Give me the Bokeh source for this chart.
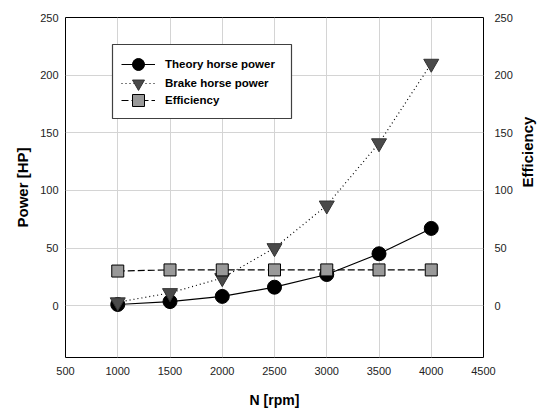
import math
from bokeh.plotting import figure
from bokeh.models import LinearAxis, FixedTicker, Range1d, Legend, LegendItem, BoxAnnotation
from bokeh.embed import file_html
from bokeh.resources import INLINE

rpm = [1000, 1500, 2000, 2500, 3000, 3500, 4000]
theory_hp = [1, 3.5, 8, 16, 27, 45, 67]
brake_hp = [3, 11, 24, 50, 87, 141, 210]
efficiency = [30, 31, 31, 31, 31, 31, 31]
x_ticks = [500, 1000, 1500, 2000, 2500, 3000, 3500, 4000, 4500]
y_ticks = [0, 50, 100, 150, 200, 250]

FONT = "Liberation Sans"

p = figure(width=547, height=410, output_backend="svg", toolbar_location=None,
           x_range=Range1d(500, 4500), y_range=Range1d(-45, 250),
           min_border_left=65, min_border_right=61, min_border_top=17, min_border_bottom=53)
p.background_fill_color = "white"
p.border_fill_color = "white"
p.outline_line_color = "black"
p.outline_line_width = 1

p.xgrid.grid_line_color = "#d4d4d4"
p.ygrid.grid_line_color = "#d4d4d4"
p.xgrid.ticker = FixedTicker(ticks=x_ticks)
p.ygrid.ticker = FixedTicker(ticks=y_ticks)

right = LinearAxis()
p.add_layout(right, "right")

for ax in [p.xaxis[0], p.yaxis[0], right]:
    ax.major_tick_line_color = None
    ax.minor_tick_line_color = None
    ax.major_tick_out = 0
    ax.major_tick_in = 0
    ax.minor_tick_out = 0
    ax.minor_tick_in = 0
    ax.axis_line_color = None
    ax.major_label_text_font = FONT
    ax.major_label_text_font_size = "11px"
    ax.major_label_text_color = "#222222"
    ax.axis_label_text_font = FONT
    ax.axis_label_text_font_style = "bold"
    ax.axis_label_text_color = "black"

p.xaxis[0].ticker = FixedTicker(ticks=x_ticks)
p.yaxis[0].ticker = FixedTicker(ticks=y_ticks)
right.ticker = FixedTicker(ticks=y_ticks)

p.xaxis[0].axis_label = "N [rpm]"
p.xaxis[0].axis_label_text_font_size = "14px"
p.xaxis[0].major_label_standoff = 9
p.xaxis[0].axis_label_standoff = 14
p.yaxis[0].axis_label = "Power [HP]"
p.yaxis[0].axis_label_text_font_size = "15px"
p.yaxis[0].major_label_standoff = 7
p.yaxis[0].axis_label_standoff = 6
right.axis_label = "Efficiency"
right.axis_label_text_font_size = "15px"
right.major_label_standoff = 11
right.axis_label_standoff = 12
if "axis_label_orientation" in right.properties():
    right.axis_label_orientation = math.pi / 2

l1 = p.line(rpm, theory_hp, line_color="black", line_width=1.2)
m1 = p.scatter(rpm, theory_hp, marker="circle", size=14, fill_color="black", line_color="black")
l2 = p.line(rpm, brake_hp, line_color="black", line_width=1.2, line_dash="1 3")
m2 = p.scatter(rpm, brake_hp, marker="inverted_triangle", size=15, fill_color="#4a4a4a", line_color="#333333")
l3 = p.line(rpm, efficiency, line_color="black", line_width=1.2, line_dash="7 3")
m3 = p.scatter(rpm, efficiency, marker="square", size=12, fill_color="#999999", line_color="black")

p.add_layout(BoxAnnotation(left=47, right=226, top=313, bottom=239,
                           left_units="screen", right_units="screen",
                           top_units="screen", bottom_units="screen",
                           fill_color="white", fill_alpha=1,
                           line_color="#404040", line_width=1.2, line_alpha=1))

labels = ["Theory horse power", "Brake horse power", "Efficiency"]
rends = [[l1, m1], [l2, m2], [l3, m3]]
locs = [(56, 278), (56, 259), (56, 242)]
for lab, rr, loc in zip(labels, rends, locs):
    lg = Legend(items=[LegendItem(label=lab, renderers=rr)], location=loc)
    lg.label_text_font = FONT
    lg.label_text_font_style = "bold"
    lg.label_text_font_size = "11.5px"
    lg.label_text_color = "black"
    lg.glyph_width = 34
    lg.glyph_height = 30
    lg.label_height = 30
    lg.label_standoff = 10
    lg.padding = 0
    lg.margin = 0
    lg.border_line_color = None
    lg.background_fill_alpha = 0
    p.add_layout(lg)

open("out.html", "w").write(file_html(p, INLINE))
